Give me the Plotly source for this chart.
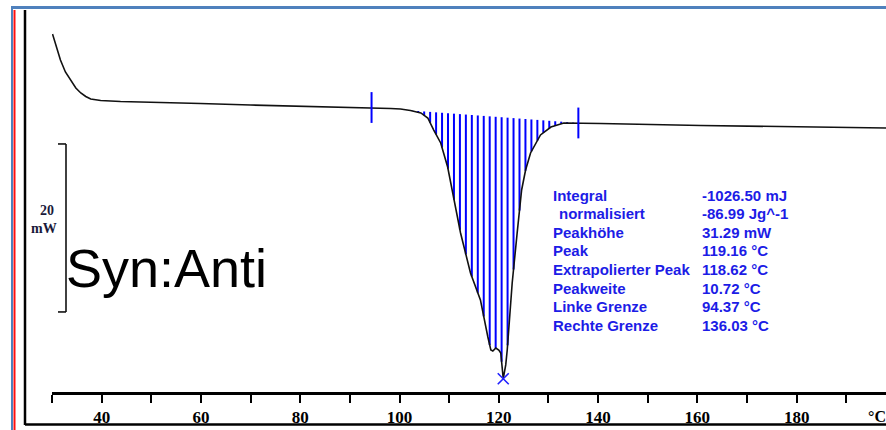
import plotly.graph_objects as go
import numpy as np

# ---------------- data ----------------
temp = [30.1, 30.9, 31.7, 32.7, 33.8, 34.8, 35.8, 36.8, 37.8, 39.8, 43.8, 49.9, 59.9, 70.0, 80.1,
        90.2, 94.37, 98.2, 100.2, 102.2, 104.3, 105.7, 106.9, 108.3, 109.7, 110.7, 112.3, 114.3,
        116.3, 117.8, 118.4, 118.8, 119.4, 120.0, 120.4, 120.9, 121.4, 121.7, 122.7, 123.7, 124.6,
        125.4, 126.4, 128.4, 130.5, 133.1, 136.03, 140.5, 160.7, 180.8, 198.0]
heat = [9.64, 8.10, 6.55, 5.12, 4.17, 3.21, 2.62, 2.20, 1.90, 1.73, 1.61, 1.55, 1.37, 1.19, 1.07,
        0.95, 0.89, 0.77, 0.71, 0.54, 0.24, -0.36, -1.79, -3.33, -6.19, -9.29, -14.05, -18.81,
        -22.02, -26.43, -27.98, -28.10, -27.74, -27.98, -28.33, -31.4, -29.76, -27.98, -20.0,
        -14.05, -8.93, -6.55, -4.52, -2.38, -1.43, -0.95, -0.95, -1.01, -1.25, -1.43, -1.55]

left_limit = 94.37
right_limit = 136.03
hatch_step = 1.2

info_labels = ["Integral", "normalisiert", "Peakhöhe", "Peak", "Extrapolierter Peak",
               "Peakweite", "Linke Grenze", "Rechte Grenze"]
info_values = ["-1026.50 mJ", "-86.99 Jg^-1", "31.29 mW", "119.16 °C", "118.62 °C",
               "10.72 °C", "94.37 °C", "136.03 °C"]

tick_vals = [40, 60, 80, 100, 120, 140, 160, 180]
minor_vals = [30, 50, 70, 90, 110, 130, 150, 170, 190]
scale_mw = 20
scale_top = -3.45

# ---------------- layout geometry ----------------
W, H = 886, 430
ML, MR, MT, MB = 52, 0, 0, 38
PW, PH = W - ML - MR, H - MT - MB


def px(x):
    return (x - ML) / PW


def py(y):
    return 1 - (y - MT) / PH


T = np.array(temp)
Q = np.array(heat)
bl_y = [float(np.interp(left_limit, T, Q)), float(np.interp(right_limit, T, Q))]

# hatch segments between straight baseline and curve
hx = np.arange(left_limit + 1.0, right_limit, hatch_step)
h_base = np.interp(hx, [left_limit, right_limit], bl_y)
h_curve = np.interp(hx, T, Q)
seg_x, seg_y = [], []
for a, b, c in zip(hx, h_base, h_curve):
    seg_x += [a, a, None]
    seg_y += [b, min(c, b), None]

fig = go.Figure()

fig.add_trace(go.Scatter(x=seg_x, y=seg_y, mode="lines", line=dict(color="#0000ff", width=2),
                         hoverinfo="skip", showlegend=False, connectgaps=False))
# main curve
fig.add_trace(go.Scatter(x=temp, y=heat, mode="lines", line=dict(color="#111111", width=1.6),
                         showlegend=False))
# limit markers
fig.add_trace(go.Scatter(x=[left_limit, right_limit], y=bl_y, mode="markers",
                         marker=dict(symbol="line-ns-open", size=22, color="#0000ff",
                                     line=dict(color="#0000ff", width=2)),
                         showlegend=False))
# peak marker
ip = int(np.argmin(Q))
fig.add_trace(go.Scatter(x=[T[ip]], y=[Q[ip]], mode="markers",
                         marker=dict(symbol="x-thin-open", size=11, color="#2020ff",
                                     line=dict(color="#2020ff", width=1.6)),
                         showlegend=False))

shapes = []
# frame lines
shapes.append(dict(type="line", xref="paper", yref="paper", x0=px(11), x1=px(886), y0=py(7.5), y1=py(7.5),
                   line=dict(color="#4f81bd", width=3)))
shapes.append(dict(type="line", xref="paper", yref="paper", x0=px(12), x1=px(12), y0=py(7.5), y1=py(430),
                   line=dict(color="#4f81bd", width=2)))
shapes.append(dict(type="line", xref="paper", yref="paper", x0=px(14.5), x1=px(14.5), y0=py(10), y1=py(430),
                   line=dict(color="#ff1010", width=2)))
shapes.append(dict(type="line", xref="paper", yref="paper", x0=px(25), x1=px(25), y0=py(10), y1=py(425),
                   line=dict(color="#000000", width=2.5)))
shapes.append(dict(type="line", xref="paper", yref="paper", x0=px(25), x1=px(886), y0=py(424.5), y1=py(424.5),
                   line=dict(color="#000000", width=2.5)))
# 20 mW scale bar
sb_bot = scale_top - scale_mw
shapes.append(dict(type="line", xref="paper", yref="y", x0=px(66), x1=px(66), y0=sb_bot, y1=scale_top,
                   line=dict(color="#111111", width=1.6)))
shapes.append(dict(type="line", xref="paper", yref="y", x0=px(58), x1=px(66), y0=scale_top, y1=scale_top,
                   line=dict(color="#111111", width=1.6)))
shapes.append(dict(type="line", xref="paper", yref="y", x0=px(58), x1=px(66), y0=sb_bot, y1=sb_bot,
                   line=dict(color="#111111", width=1.6)))

ann = []
ann.append(dict(xref="paper", yref="paper", x=px(47), y=py(210), text="<b>20</b>", showarrow=False,
                font=dict(family="Liberation Serif", size=14, color="#1a1a3a"), xanchor="center", yanchor="middle"))
ann.append(dict(xref="paper", yref="paper", x=px(44), y=py(228), text="<b>mW</b>", showarrow=False,
                font=dict(family="Liberation Serif", size=14, color="#1a1a3a"), xanchor="center", yanchor="middle"))
ann.append(dict(xref="paper", yref="paper", x=px(64), y=py(268), text="Syn:Anti", showarrow=False,
                font=dict(family="Liberation Sans", size=54, color="#000000"), xanchor="left", yanchor="middle"))
ann.append(dict(xref="paper", yref="paper", x=px(866), y=py(416), text="<b>°C</b>", showarrow=False,
                font=dict(family="Liberation Serif", size=16, color="#000000"), xanchor="left", yanchor="middle"))

row_y = [195, 213, 232, 251, 269, 288, 306, 325]
for i, (lab, val) in enumerate(zip(info_labels, info_values)):
    lx = 557 if lab == "normalisiert" else 551
    ann.append(dict(xref="paper", yref="paper", x=px(lx), y=py(row_y[i]), text=f"<b>{lab}</b>",
                    showarrow=False, xanchor="left", yanchor="middle",
                    font=dict(family="Liberation Sans", size=15, color="#1c1ce6")))
    ann.append(dict(xref="paper", yref="paper", x=px(700), y=py(row_y[i]), text=f"<b>{val}</b>",
                    showarrow=False, xanchor="left", yanchor="middle",
                    font=dict(family="Liberation Sans", size=15, color="#1c1ce6")))

fig.update_layout(
    width=W, height=H,
    margin=dict(l=ML, r=MR, t=MT, b=MB),
    paper_bgcolor="white", plot_bgcolor="white",
    shapes=shapes, annotations=ann,
    xaxis=dict(range=[30, 198.0], showgrid=False, zeroline=False, showline=True,
               linecolor="#000000", linewidth=2.5, ticks="outside", ticklen=8, tickwidth=1.8,
               tickcolor="#000000", tickvals=tick_vals, ticktext=[f"<b>{v}</b>" for v in tick_vals],
               tickfont=dict(family="Liberation Serif", size=17, color="#000000"),
               minor=dict(tickvals=minor_vals, ticks="outside",
                          ticklen=8, tickwidth=1.8, tickcolor="#000000", showgrid=False),
               fixedrange=True),
    yaxis=dict(range=[-32.98, 13.69], visible=False, showgrid=False, zeroline=False),
)

fig.write_html("out.html")
